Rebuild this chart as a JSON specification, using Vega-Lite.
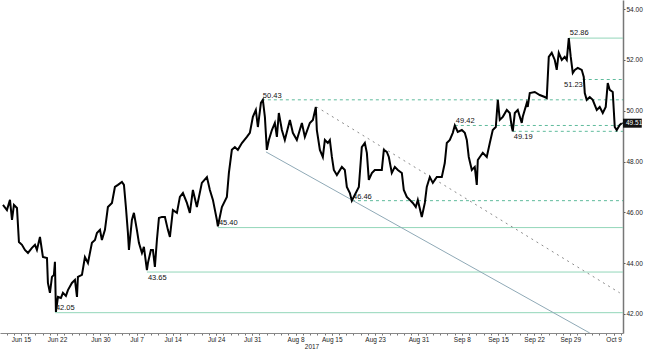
{
  "$schema": "https://vega.github.io/schema/vega-lite/v6.json",
  "width": 623,
  "height": 333,
  "autosize": "none",
  "padding": {"left": 0, "top": 0, "right": 39, "bottom": 30},
  "background": "white",
  "config": {"view": {"stroke": null}, "font": "Liberation Sans", "axis": {"grid": false}},
  "resolve": {"axis": {"x": "independent"}},
  "datasets": {
    "price": [
      {"d":-2.49,"p":46.29},{"d":-1.94,"p":46.09},{"d":-1.52,"p":46.49},{"d":-1.24,"p":45.7},{"d":-0.97,"p":46.29},{"d":-0.55,"p":46.17},{"d":-0.28,"p":44.83},{"d":0.14,"p":44.72},{"d":0.55,"p":44.52},{"d":0.97,"p":44.4},{"d":1.52,"p":44.6},{"d":1.94,"p":44.72},{"d":2.21,"p":44.52},{"d":2.63,"p":45.03},{"d":3.04,"p":44.24},{"d":3.6,"p":44.2},{"d":3.73,"p":43.22},{"d":4.01,"p":42.83},{"d":4.29,"p":43.46},{"d":4.56,"p":43.54},{"d":4.7,"p":44.05},{"d":4.84,"p":42.08},{"d":5.12,"p":42.67},{"d":5.53,"p":42.63},{"d":5.81,"p":42.83},{"d":6.22,"p":42.71},{"d":6.5,"p":42.94},{"d":7.05,"p":43.22},{"d":7.47,"p":43.34},{"d":7.75,"p":42.67},{"d":7.88,"p":43.46},{"d":8.44,"p":43.54},{"d":8.85,"p":44.24},{"d":9.27,"p":44.01},{"d":9.82,"p":44.8},{"d":10.24,"p":44.91},{"d":10.51,"p":45.19},{"d":10.93,"p":45.31},{"d":11.2,"p":44.91},{"d":11.62,"p":45.31},{"d":12.03,"p":46.21},{"d":12.59,"p":46.37},{"d":13.0,"p":47.0},{"d":13.42,"p":47.08},{"d":13.97,"p":47.2},{"d":14.25,"p":47.08},{"d":14.52,"p":46.21},{"d":14.8,"p":45.19},{"d":14.94,"p":44.52},{"d":15.35,"p":45.7},{"d":15.63,"p":45.98},{"d":16.04,"p":45.31},{"d":16.32,"p":44.8},{"d":16.74,"p":44.4},{"d":17.01,"p":44.64},{"d":17.43,"p":43.73},{"d":17.57,"p":44.01},{"d":17.98,"p":44.52},{"d":18.26,"p":44.52},{"d":18.53,"p":43.85},{"d":18.81,"p":44.91},{"d":19.09,"p":45.78},{"d":19.5,"p":45.82},{"d":19.92,"p":45.82},{"d":20.33,"p":45.31},{"d":20.61,"p":45.03},{"d":21.02,"p":46.09},{"d":21.58,"p":45.98},{"d":21.99,"p":46.61},{"d":22.41,"p":46.76},{"d":22.96,"p":46.37},{"d":23.37,"p":45.98},{"d":23.79,"p":46.88},{"d":24.34,"p":46.21},{"d":25.03,"p":47.16},{"d":25.73,"p":47.39},{"d":26.14,"p":46.88},{"d":26.56,"p":46.49},{"d":27.11,"p":45.7},{"d":27.25,"p":45.45},{"d":27.8,"p":46.21},{"d":28.49,"p":46.61},{"d":28.77,"p":47.55},{"d":29.18,"p":48.46},{"d":29.6,"p":48.57},{"d":30.01,"p":48.46},{"d":30.57,"p":48.73},{"d":31.26,"p":48.97},{"d":31.67,"p":49.13},{"d":32.09,"p":49.76},{"d":32.5,"p":50.03},{"d":32.78,"p":49.36},{"d":33.2,"p":50.31},{"d":33.47,"p":50.43},{"d":33.75,"p":49.76},{"d":34.02,"p":48.46},{"d":34.3,"p":48.85},{"d":34.72,"p":49.24},{"d":35.13,"p":49.52},{"d":35.41,"p":48.97},{"d":35.68,"p":49.91},{"d":36.1,"p":49.24},{"d":36.51,"p":48.85},{"d":37.21,"p":49.64},{"d":37.62,"p":49.13},{"d":38.17,"p":48.85},{"d":38.87,"p":49.52},{"d":39.28,"p":48.97},{"d":39.97,"p":49.52},{"d":40.39,"p":49.64},{"d":40.8,"p":50.15},{"d":40.94,"p":49.24},{"d":41.36,"p":48.46},{"d":41.77,"p":48.18},{"d":42.05,"p":48.85},{"d":42.46,"p":48.73},{"d":42.74,"p":48.85},{"d":43.02,"p":48.18},{"d":43.29,"p":47.67},{"d":43.71,"p":47.47},{"d":44.4,"p":47.79},{"d":44.81,"p":47.67},{"d":45.09,"p":47.0},{"d":45.51,"p":46.76},{"d":45.78,"p":46.46},{"d":46.2,"p":46.69},{"d":46.75,"p":47.0},{"d":47.16,"p":48.57},{"d":47.58,"p":48.73},{"d":47.86,"p":48.34},{"d":48.13,"p":47.28},{"d":48.55,"p":47.55},{"d":48.96,"p":47.67},{"d":49.38,"p":47.67},{"d":49.93,"p":47.67},{"d":50.21,"p":48.46},{"d":50.62,"p":48.38},{"d":50.9,"p":48.18},{"d":51.31,"p":47.55},{"d":51.73,"p":47.79},{"d":52.14,"p":47.67},{"d":52.7,"p":47.55},{"d":52.97,"p":46.88},{"d":53.39,"p":46.61},{"d":53.8,"p":46.49},{"d":54.22,"p":46.37},{"d":54.63,"p":46.21},{"d":54.91,"p":46.49},{"d":55.46,"p":45.82},{"d":55.88,"p":46.37},{"d":56.15,"p":47.0},{"d":56.57,"p":47.39},{"d":56.99,"p":47.16},{"d":57.54,"p":47.39},{"d":58.23,"p":47.39},{"d":58.64,"p":47.94},{"d":58.92,"p":48.73},{"d":59.34,"p":48.85},{"d":59.75,"p":49.13},{"d":60.03,"p":49.42},{"d":60.44,"p":49.17},{"d":61.0,"p":49.24},{"d":61.41,"p":49.13},{"d":61.69,"p":48.85},{"d":61.96,"p":48.18},{"d":62.38,"p":47.67},{"d":62.79,"p":47.79},{"d":63.07,"p":47.08},{"d":63.21,"p":48.06},{"d":63.49,"p":48.18},{"d":63.9,"p":48.34},{"d":64.45,"p":48.18},{"d":64.87,"p":48.73},{"d":65.28,"p":49.24},{"d":65.7,"p":49.36},{"d":65.98,"p":50.43},{"d":66.25,"p":49.64},{"d":66.67,"p":49.76},{"d":67.22,"p":50.03},{"d":67.63,"p":49.91},{"d":67.91,"p":49.36},{"d":68.05,"p":49.19},{"d":68.33,"p":49.91},{"d":68.74,"p":50.03},{"d":69.29,"p":49.52},{"d":69.43,"p":49.76},{"d":69.99,"p":50.31},{"d":70.12,"p":50.15},{"d":70.4,"p":50.7},{"d":71.09,"p":50.74},{"d":71.78,"p":50.62},{"d":72.48,"p":50.54},{"d":72.75,"p":50.5},{"d":73.03,"p":52.12},{"d":73.44,"p":52.28},{"d":73.86,"p":52.0},{"d":74.13,"p":51.61},{"d":74.41,"p":52.28},{"d":74.83,"p":52.0},{"d":75.24,"p":52.12},{"d":75.52,"p":52.0},{"d":75.8,"p":52.86},{"d":76.07,"p":52.12},{"d":76.35,"p":51.49},{"d":76.63,"p":51.61},{"d":77.04,"p":51.69},{"d":77.59,"p":51.61},{"d":77.87,"p":51.33},{"d":78.01,"p":50.7},{"d":78.28,"p":50.43},{"d":78.7,"p":50.54},{"d":79.11,"p":50.43},{"d":79.67,"p":50.03},{"d":80.08,"p":50.15},{"d":80.5,"p":49.91},{"d":80.91,"p":50.15},{"d":81.19,"p":51.09},{"d":81.47,"p":50.82},{"d":81.88,"p":50.74},{"d":82.16,"p":49.36},{"d":82.43,"p":49.24},{"d":82.85,"p":49.44},{"d":83.13,"p":49.51}
    ],
    "solidLevels": [
      {"start":75.8,"v":52.86,"label":"52.86"},
      {"start":27.25,"v":45.40,"label":"45.40"},
      {"start":17.43,"v":43.65,"label":"43.65"},
      {"start":4.7,"v":42.05,"label":"42.05"}
    ],
    "dashLevels": [
      {"start":77.73,"v":51.23,"label":"51.23"},
      {"start":33.33,"v":50.43,"label":"50.43"},
      {"start":60.03,"v":49.42,"label":"49.42"},
      {"start":68.05,"v":49.19,"label":"49.19"},
      {"start":45.8,"v":46.46,"label":"46.46"}
    ],
    "trend": [
      {"line":"support","d":33.9,"p":48.38},
      {"line":"support","d":78.7,"p":41.25},
      {"line":"resistance","d":40.9,"p":50.15},
      {"line":"resistance","d":82.85,"p":42.83}
    ],
    "last": [{"d0":83.3,"d1":85.9,"p":49.51,"label":"49.51"}]
  },
  "layer": [
    {
      "data": {"name": "solidLevels"},
      "mark": {"type": "rule", "color": "#93d6b9", "strokeWidth": 1},
      "encoding": {
        "x": {
          "field": "start", "type": "quantitative",
          "scale": {"domain": [-2.9, 83.3], "nice": false, "zero": false},
          "axis": {
            "orient": "bottom", "grid": false, "title": null, "labels": false,
            "values": [-2,-1,0,1,2,3,4,5,6,7,8,9,10,11,12,13,14,15,16,17,18,19,20,21,22,23,24,25,26,27,28,29,30,31,32,33,34,35,36,37,38,39,40,41,42,43,44,45,46,47,48,49,50,51,52,53,54,55,56,57,58,59,60,61,62,63,64,65,66,67,68,69,70,71,72,73,74,75,76,77,78,79,80,81,82,83],
            "tickSize": 2, "tickColor": "#777", "domainColor": "#888"
          }
        },
        "x2": {"datum": 83.3},
        "y": {
          "field": "v", "type": "quantitative", "title": null,
          "scale": {"domain": [41.25, 54.36], "nice": false, "zero": false},
          "axis": {
            "orient": "right", "grid": false, "title": null,
            "values": [42,43,44,45,46,47,48,49,50,51,52,53,54],
            "labelExpr": "datum.value % 2 == 0 ? format(datum.value, '.2f') : ''",
            "labelOverlap": false,
            "labelFontSize": 6.5, "labelColor": "#222", "labelPadding": 1,
            "tickSize": 2, "tickColor": "#555", "domainColor": "#777", "domainWidth": 1.5
          }
        }
      }
    },
    {
      "data": {"name": "dashLevels"},
      "mark": {"type": "rule", "color": "#5fbb9c", "strokeWidth": 1, "strokeDash": [3, 3]},
      "encoding": {
        "x": {
          "field": "start", "type": "quantitative", "title": "2017",
          "axis": {
            "orient": "bottom", "grid": false, "domain": false,
            "values": [0,5,11,16,21,27,32,38,43,49,55,61,66,71,76,82],
            "labelExpr": "['Jun 15','Jun 22','Jun 30','Jul 7','Jul 14','Jul 24','Jul 31','Aug 8','Aug 15','Aug 23','Aug 31','Sep 8','Sep 15','Sep 22','Sep 29','Oct 9'][indexof([0,5,11,16,21,27,32,38,43,49,55,61,66,71,76,82], datum.value)]",
            "labelOverlap": false, "labelFlush": false,
            "labelFontSize": 6.5, "labelColor": "#222", "labelPadding": 1,
            "tickSize": 2, "tickColor": "#777",
            "titleFontSize": 6.5, "titleFontWeight": "normal", "titleColor": "#222", "titlePadding": 1
          }
        },
        "x2": {"datum": 83.3},
        "y": {"field": "v", "type": "quantitative"}
      }
    },
    {
      "data": {"name": "trend"},
      "transform": [{"filter": "datum.line == 'support'"}],
      "mark": {"type": "line", "color": "#8fa9b6", "strokeWidth": 1, "clip": true},
      "encoding": {
        "x": {"field": "d", "type": "quantitative", "axis": null},
        "y": {"field": "p", "type": "quantitative"}
      }
    },
    {
      "data": {"name": "trend"},
      "transform": [{"filter": "datum.line == 'resistance'"}],
      "mark": {"type": "line", "color": "#8c8c8c", "strokeWidth": 1, "strokeDash": [2, 4], "clip": true},
      "encoding": {
        "x": {"field": "d", "type": "quantitative", "axis": null},
        "y": {"field": "p", "type": "quantitative"}
      }
    },
    {
      "data": {"name": "price"},
      "mark": {"type": "line", "color": "#000000", "strokeWidth": 2, "clip": true},
      "encoding": {
        "x": {"field": "d", "type": "quantitative", "axis": null},
        "y": {"field": "p", "type": "quantitative"}
      }
    },
    {
      "data": {"name": "solidLevels"},
      "transform": [{"filter": {"field": "label", "oneOf": ["52.86", "45.40", "42.05"]}}],
      "mark": {"type": "text", "align": "left", "baseline": "bottom", "dx": 1, "dy": -1, "fontSize": 7.5, "color": "#111"},
      "encoding": {
        "x": {"field": "start", "type": "quantitative", "axis": null},
        "y": {"field": "v", "type": "quantitative"},
        "text": {"field": "label"}
      }
    },
    {
      "data": {"name": "solidLevels"},
      "transform": [{"filter": {"field": "label", "oneOf": ["43.65"]}}],
      "mark": {"type": "text", "align": "left", "baseline": "top", "dx": 1, "dy": 2, "fontSize": 7.5, "color": "#111"},
      "encoding": {
        "x": {"field": "start", "type": "quantitative", "axis": null},
        "y": {"field": "v", "type": "quantitative"},
        "text": {"field": "label"}
      }
    },
    {
      "data": {"name": "dashLevels"},
      "transform": [{"filter": {"field": "label", "oneOf": ["50.43", "49.42", "46.46"]}}],
      "mark": {"type": "text", "align": "left", "baseline": "bottom", "dx": 1, "dy": 0, "fontSize": 7.5, "color": "#111"},
      "encoding": {
        "x": {"field": "start", "type": "quantitative", "axis": null},
        "y": {"field": "v", "type": "quantitative"},
        "text": {"field": "label"}
      }
    },
    {
      "data": {"name": "dashLevels"},
      "transform": [{"filter": {"field": "label", "oneOf": ["49.19"]}}],
      "mark": {"type": "text", "align": "left", "baseline": "top", "dx": 1, "dy": 2, "fontSize": 7.5, "color": "#111"},
      "encoding": {
        "x": {"field": "start", "type": "quantitative", "axis": null},
        "y": {"field": "v", "type": "quantitative"},
        "text": {"field": "label"}
      }
    },
    {
      "data": {"name": "dashLevels"},
      "transform": [{"filter": {"field": "label", "oneOf": ["51.23"]}}],
      "mark": {"type": "text", "align": "right", "baseline": "top", "dx": 0, "dy": 1, "fontSize": 7.5, "color": "#111"},
      "encoding": {
        "x": {"field": "start", "type": "quantitative", "axis": null},
        "y": {"field": "v", "type": "quantitative"},
        "text": {"field": "label"}
      }
    },
    {
      "data": {"name": "last"},
      "mark": {"type": "rect", "color": "#111", "clip": false, "height": 9},
      "encoding": {
        "x": {"field": "d0", "type": "quantitative", "axis": null},
        "x2": {"field": "d1"},
        "y": {"field": "p", "type": "quantitative"}
      }
    },
    {
      "data": {"name": "last"},
      "mark": {"type": "point", "shape": "triangle-left", "filled": true, "color": "#111", "size": 14, "opacity": 1},
      "encoding": {
        "x": {"field": "d0", "type": "quantitative", "axis": null},
        "y": {"field": "p", "type": "quantitative"}
      }
    },
    {
      "data": {"name": "last"},
      "mark": {"type": "text", "align": "left", "baseline": "middle", "dx": 3, "fontSize": 6.5, "color": "white"},
      "encoding": {
        "x": {"field": "d0", "type": "quantitative", "axis": null},
        "y": {"field": "p", "type": "quantitative"},
        "text": {"field": "label"}
      }
    }
  ]
}
